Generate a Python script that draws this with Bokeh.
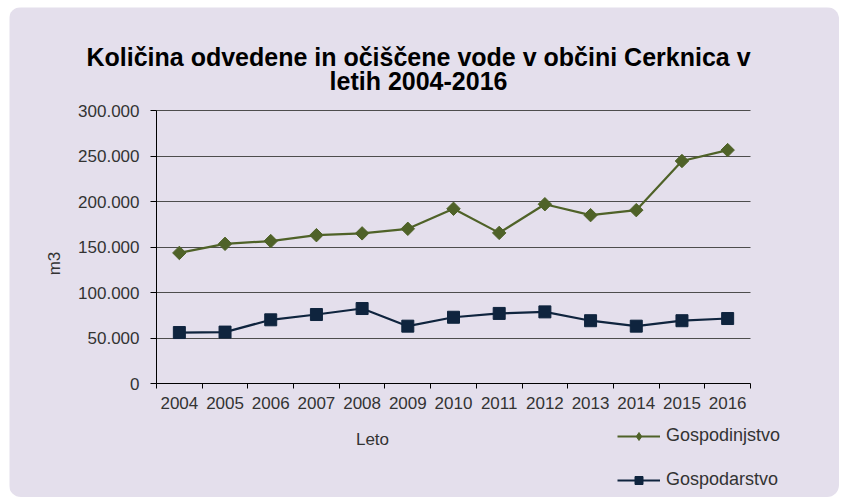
import math
from bokeh.plotting import figure
from bokeh.models import Range1d, FixedTicker, Label, Legend, LegendItem
from bokeh.embed import file_html
from bokeh.resources import INLINE

# ---- data ----
years = ["2004", "2005", "2006", "2007", "2008", "2009", "2010",
         "2011", "2012", "2013", "2014", "2015", "2016"]
gospodinjstvo = [143500, 153500, 156500, 163000, 165000, 170000, 192000,
                 165500, 197000, 185000, 190500, 244500, 256500]
gospodarstvo = [56000, 56500, 70000, 75800, 82400, 63000, 72800,
                77000, 78700, 69000, 63000, 69000, 71400]
y_ticks = [0, 50000, 100000, 150000, 200000, 250000, 300000]
y_tick_labels = ["0", "50.000", "100.000", "150.000", "200.000", "250.000", "300.000"]
title_lines = ["Količina odvedene in očiščene vode v občini Cerknica v", "letih 2004-2016"]
series_names = ["Gospodinjstvo", "Gospodarstvo"]
x_title = "Leto"
y_title = "m3"

# ---- layout constants (page pixels) ----
FIG_X0, FIG_Y0, W, H = 9, 7, 830, 490
PL, PR, PT, PB = 156, 750, 110, 383          # plot area edges
Y_MAX = y_ticks[-1]
N = len(years)

FONT = "Liberation Sans"
BG = "#E4DFEC"
GREEN = "#4F6228"
NAVY = "#0F243E"
TXT = "#333333"

ux = N / (PR - PL)
uy = Y_MAX / (PB - PT)
x_range = Range1d(-(PL - FIG_X0) * ux, N + (FIG_X0 + W - PR) * ux)
y_range = Range1d(-(FIG_Y0 + H - PB) * uy, Y_MAX + (PT - FIG_Y0) * uy)

xs = [i + 0.5 for i in range(N)]

p = figure(width=W, height=H, output_backend="svg", toolbar_location=None,
           x_range=x_range, y_range=y_range,
           min_border_left=0, min_border_right=0, min_border_top=0,
           min_border_bottom=0)
p.margin = (FIG_Y0, 0, 0, FIG_X0)
p.styles = {"border-radius": "12px", "overflow": "hidden"}
p.background_fill_color = BG
p.border_fill_color = BG
p.outline_line_color = None

# x axis: labels at category centres, tick marks at category boundaries
p.xaxis.fixed_location = 0
p.xaxis.bounds = (0, N)
p.xaxis.ticker = FixedTicker(ticks=xs, minor_ticks=list(range(N + 1)))
p.xaxis.major_label_overrides = {x: y for x, y in zip(xs, years)}
p.xaxis.major_tick_out = 0
p.xaxis.major_tick_in = 0
p.xaxis.minor_tick_out = 5
p.xaxis.minor_tick_in = 0
p.xaxis.minor_tick_line_color = "black"
p.xaxis.axis_line_color = "black"
p.xaxis.major_label_standoff = 8
p.xgrid.grid_line_color = None

p.yaxis.fixed_location = 0
p.yaxis.bounds = (0, Y_MAX)
p.yaxis.ticker = FixedTicker(ticks=y_ticks, minor_ticks=[])
p.yaxis.major_label_overrides = {t: l for t, l in zip(y_ticks, y_tick_labels)}
p.yaxis.major_tick_out = 6
p.yaxis.major_tick_in = 0
p.yaxis.major_tick_line_color = "black"
p.yaxis.axis_line_color = "black"
p.yaxis.major_label_standoff = 11
p.ygrid.ticker = FixedTicker(ticks=y_ticks[1:], minor_ticks=[])
p.ygrid.bounds = (0, Y_MAX)
p.ygrid.cross_bounds = (0, N)
p.ygrid.grid_line_color = "#4d4d4d"
p.ygrid.grid_line_width = 1

for ax in (p.xaxis, p.yaxis):
    ax.major_label_text_font = FONT
    ax.major_label_text_font_size = "17px"
    ax.major_label_text_color = TXT

r1 = p.line(xs, gospodinjstvo, line_color=GREEN, line_width=2.2)
# narrow diamond used for the legend swatch (hidden under the wide markers)
lg1 = p.scatter(xs, gospodinjstvo, marker="diamond", size=11, fill_color=GREEN,
                line_color=GREEN)
m1 = p.scatter(xs, gospodinjstvo, marker="square", size=9.5, angle=math.pi / 4,
               fill_color=GREEN, line_color=GREEN)
r2 = p.line(xs, gospodarstvo, line_color=NAVY, line_width=2.2)
m2 = p.scatter(xs, gospodarstvo, marker="square", size=12, fill_color=NAVY,
               line_color=NAVY)

legend = Legend(items=[LegendItem(label=series_names[0], renderers=[r1, lg1]),
                       LegendItem(label=series_names[1], renderers=[r2, m2])],
                location=(617 - FIG_X0, FIG_Y0 + H - 490), orientation="vertical",
                background_fill_alpha=0, border_line_color=None,
                padding=0, margin=0, spacing=23, glyph_width=43,
                glyph_height=20, label_height=20, label_standoff=6,
                label_text_font=FONT, label_text_font_size="18px",
                label_text_color=TXT)
p.add_layout(legend, "center")


def sx(px):
    return px - FIG_X0


def sy(py):
    return FIG_Y0 + H - py


for txt, ty in zip(title_lines, [56.7, 80.7]):
    p.add_layout(Label(x=sx(418), y=sy(ty), x_units="screen", y_units="screen",
                       text=txt, text_align="center", text_baseline="alphabetic",
                       text_font=FONT, text_font_size="25px",
                       text_font_style="bold", text_color="black"))

p.add_layout(Label(x=sx(372), y=sy(439), x_units="screen", y_units="screen",
                   text=x_title, text_align="center", text_baseline="middle",
                   text_font=FONT, text_font_size="17px", text_color=TXT))
p.add_layout(Label(x=sx(54), y=sy(263), x_units="screen", y_units="screen",
                   text=y_title, angle=math.pi / 2, text_align="center",
                   text_baseline="middle", text_font=FONT,
                   text_font_size="17px", text_color=TXT))

open("out.html", "w").write(file_html(p, INLINE))
